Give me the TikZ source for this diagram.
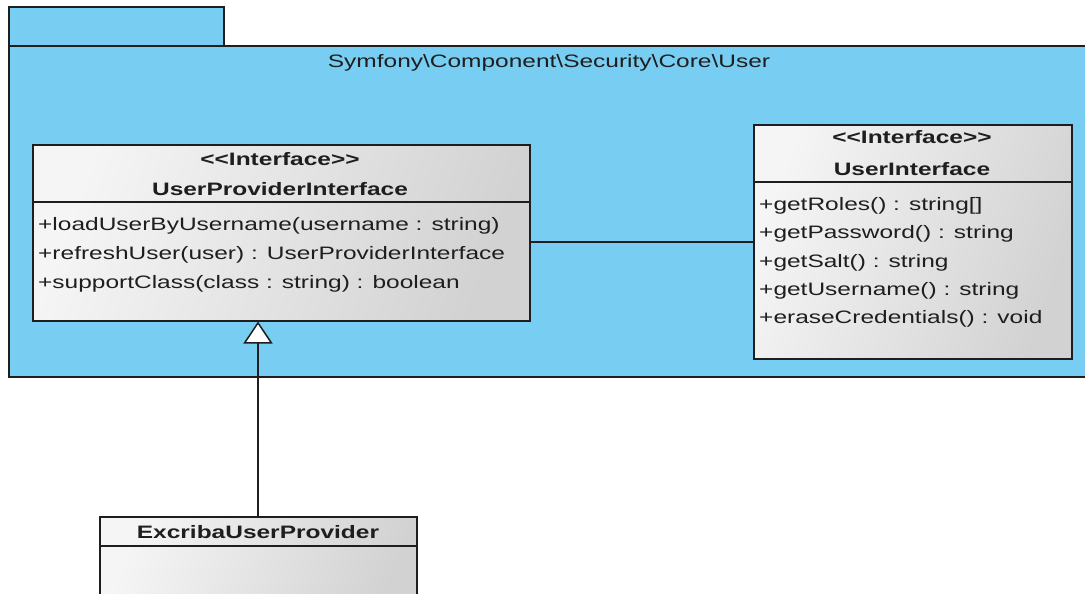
\documentclass[tikz,border=0pt]{standalone}
\usepackage{fontspec}
\setmainfont[FakeStretch=1.36,Ligatures=NoCommon]{Liberation Sans}
\usetikzlibrary{arrows.meta}
\definecolor{pkgblue}{RGB}{120,206,242}
\definecolor{ink}{RGB}{30,30,30}
\definecolor{boxl}{RGB}{245,245,245}
\definecolor{boxr}{RGB}{210,210,210}
\tikzset{
  pkg/.style={draw=ink, line width=1.5pt, fill=pkgblue},
  classbox/.style={draw=ink, line width=1.5pt, left color=boxl, right color=boxr, shading angle=70, rectangle, inner sep=0pt, anchor=north west},
  divider/.style={draw=ink, line width=1.3pt},
  txt/.style={inner sep=0pt, anchor=base west, text=ink, font=\fontsize{18}{22}\selectfont},
  hdr/.style={inner sep=0pt, anchor=base, text=ink, font=\fontsize{18}{22}\selectfont\bfseries},
  conn/.style={draw=ink, line width=1.5pt},
  gen/.style={conn, -{Triangle[open, length=22pt, width=29pt, fill=white, line width=1.5pt]}}
}
\newcommand{\stereo}{\textless{}\textless{}Interface\textgreater{}\textgreater{}}
\begin{document}
\begin{tikzpicture}[x=1pt, y=-1pt]
\useasboundingbox (0,0) rectangle (1085,594);
% package
\path[pkg] (9,7) rectangle (224,46);
\path[pkg] (9,46) rectangle (1095,377);
\node[inner sep=0pt, anchor=base, text=ink, font=\fontsize{18}{22}\selectfont] (pkgname) at (549,68) {Symfony\textbackslash Component\textbackslash Security\textbackslash Core\textbackslash User};
% UserProviderInterface
\node[classbox, minimum width=497pt, minimum height=176pt] (upi) at (32,144) {};
\draw[divider] (32,202) -- (529,202);
\node[hdr] (upist) at (280,165) {\stereo};
\node[hdr] (upin) at (280,195) {UserProviderInterface};
\node[txt] (upim1) at (38,230) {+loadUserByUsername(username : string)};
\node[txt] (upim2) at (38,259) {+refreshUser(user) : UserProviderInterface};
\node[txt] (upim3) at (38,288) {+supportClass(class : string) : boolean};
% UserInterface
\node[classbox, minimum width=318pt, minimum height=234pt] (ui) at (753,124) {};
\draw[divider] (753,182) -- (1071,182);
\node[hdr] (uist) at (912,143) {\stereo};
\node[hdr] (uin) at (912,175) {UserInterface};
\node[txt] (uim1) at (759,210) {+getRoles() : string[]};
\node[txt] (uim2) at (759,238) {+getPassword() : string};
\node[txt] (uim3) at (759,267) {+getSalt() : string};
\node[txt] (uim4) at (759,295) {+getUsername() : string};
\node[txt] (uim5) at (759,323) {+eraseCredentials() : void};
% ExcribaUserProvider
\node[classbox, minimum width=317pt, minimum height=100pt] (eup) at (99,516) {};
\draw[divider] (99,546) -- (416,546);
\node[hdr] (eupn) at (258,538) {ExcribaUserProvider};
% connectors
\draw[conn] (ui.west |- 0,242) -- (upi.east |- 0,242);
\draw[gen] (eup.north -| 258,0) -- (upi.south -| 258,0);
\end{tikzpicture}
\end{document}
